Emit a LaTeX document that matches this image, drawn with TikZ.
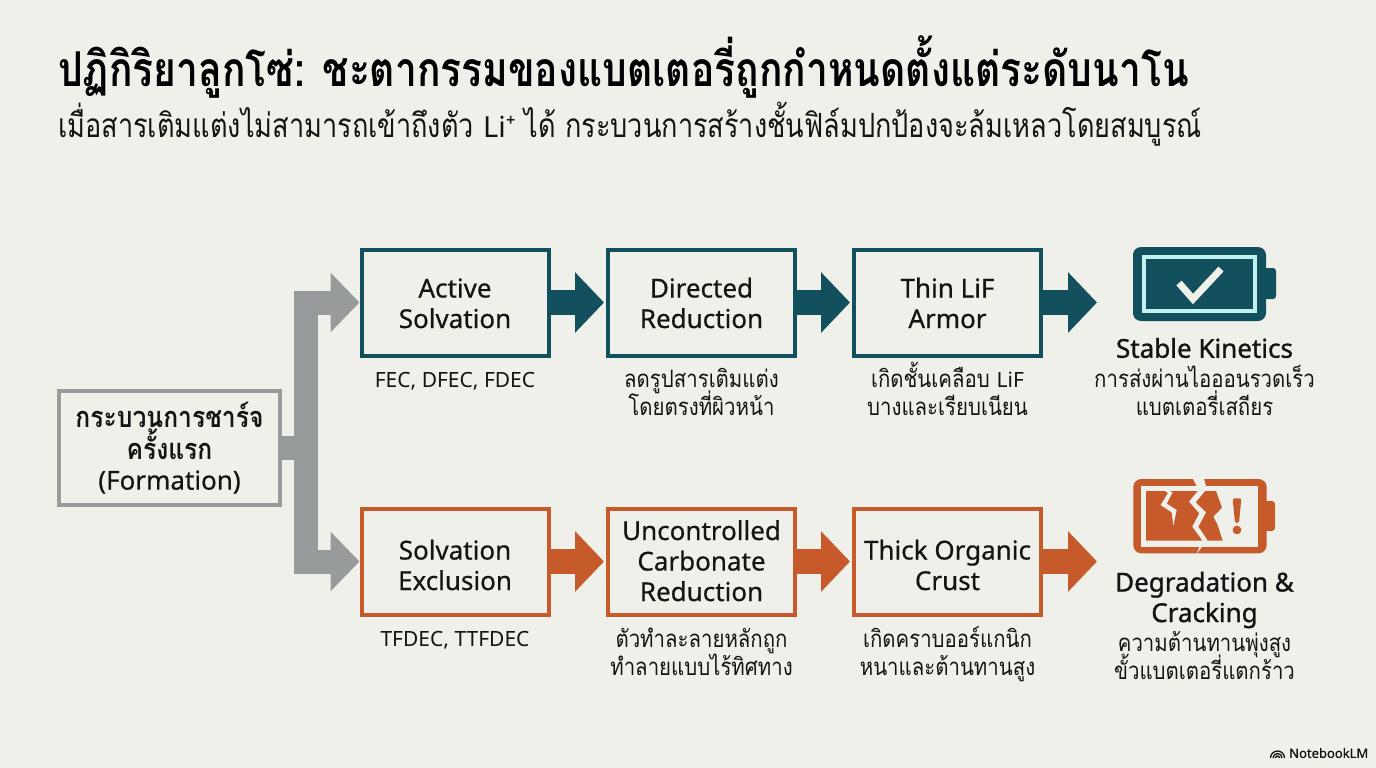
\documentclass[tikz,border=0pt]{standalone}
\usepackage{fontspec}
\setmainfont{Noto Sans}
\newfontfamily\medfont[FakeBold=0.5]{Noto Sans}
\newfontfamily\strongfont[FakeBold=1.1]{Noto Sans}
\newfontfamily\thaifont[Script=Thai,FakeStretch=0.85]{Loma}
\newfontfamily\thaihead[Script=Thai,FakeStretch=0.812]{Loma}
\newcommand\tightlines{\lineskiplimit=-100pt\relax}
\usetikzlibrary{arrows.meta,positioning,calc}
\definecolor{paper}{HTML}{F0F0EB}
\definecolor{tealc}{HTML}{12505E}
\definecolor{orangec}{HTML}{C65A2A}
\definecolor{grayc}{HTML}{989B9B}
\definecolor{inkc}{HTML}{141414}
\tikzset{
	stepbox/.style={draw=#1,line width=4pt,minimum width=187pt,minimum height=106pt,align=center,font=\fontsize{26}{30.5}\selectfont\medfont,text=inkc,inner sep=0pt},
	drop/.style={text height=#1,text depth=0pt},
	note/.style={align=center,font=\fontsize{21}{28}\selectfont,text=inkc,inner sep=0pt},
	thainote/.style={align=center,anchor=base,font=\fontsize{24}{27.5}\selectfont\thaifont\tightlines,text=inkc,inner sep=0pt},
	result/.style={align=center,font=\fontsize{26}{30.5}\selectfont\strongfont,text=inkc,inner sep=0pt},
	flow/.style={draw=#1,line width=25pt,shorten >=2pt,-{Triangle[length=29pt,width=59pt]}},
	trunk/.style={draw=grayc,line width=24pt,miter limit=10},
}
\begin{document}
\begin{tikzpicture}[x=1pt,y=-1pt]
	\fill[paper] (0,0) rectangle (1376,768);
	\useasboundingbox (0,0) rectangle (1376,768);
	% heading
	\node[anchor=west,inner sep=0pt,text=black,font=\fontsize{48}{54}\selectfont\bfseries\thaihead] (title) at (58,67) {ปฏิกิริยาลูกโซ่: ชะตากรรมของแบตเตอรี่ถูกกำหนดตั้งแต่ระดับนาโน};
	\node[anchor=west,inner sep=0pt,text=inkc,font=\fontsize{33.4}{40}\selectfont] (subtitle) at (58,124) {\thaihead เมื่อสารเติมแต่งไม่สามารถเข้าถึงตัว {\rmfamily\fontsize{29}{40}\selectfont Li⁺} ได้ กระบวนการสร้างชั้นฟิล์มปกป้องจะล้มเหลวโดยสมบูรณ์};
	% boxes
	\node[draw=grayc,line width=4pt,minimum width=221pt,minimum height=114pt,align=center,inner sep=0pt,font=\fontsize{26}{30}\selectfont\medfont,text=inkc] (start) at (169.5,448) {{\fontsize{29}{30}\selectfont\bfseries\thaifont กระบวนการชาร์จ}\\{\fontsize{29}{30}\selectfont\bfseries\thaifont ครั้งแรก}\\(Formation)};
	\node[stepbox=tealc,drop=51pt] (active) at (455,302.5) {Active\\Solvation};
	\node[stepbox=tealc,drop=51pt] (directed) at (701.5,302.5) {Directed\\Reduction};
	\node[stepbox=tealc,drop=51pt] (thin) at (947.5,302.5) {Thin LiF\\Armor};
	\node[stepbox=orangec,drop=57pt] (exclusion) at (455,561.5) {Solvation\\Exclusion};
	\node[stepbox=orangec,drop=79pt] (uncontrolled) at (701.5,561.5) {Uncontrolled\\Carbonate\\Reduction};
	\node[stepbox=orangec,drop=57pt] (crust) at (947.5,561.5) {Thick Organic\\Crust};
	% texts under the boxes
	\node[note] (activenote) at (455,381) {FEC, DFEC, FDEC};
	\node[thainote] (directednote) at (701.5,415) {ลดรูปสารเติมแต่ง\\โดยตรงที่ผิวหน้า};
	\node[thainote] (thinnote) at (947.5,415) {เกิดชั้นเคลือบ {\rmfamily\fontsize{21}{27.5}\selectfont LiF}\\บางและเรียบเนียน};
	\node[note] (exclusionnote) at (455,640) {TFDEC, TTFDEC};
	\node[thainote] (uncontrollednote) at (701.5,675) {ตัวทำละลายหลักถูก\\ทำลายแบบไร้ทิศทาง};
	\node[thainote] (crustnote) at (947.5,675) {เกิดคราบออร์แกนิก\\หนาและต้านทานสูง};
	% results
	\coordinate (stable) at (1099,302.5);
	\coordinate (degraded) at (1099,561.5);
	\node[result] (stabletext) at (1204.5,348) {Stable Kinetics};
	\node[thainote] (stablenote) at (1204.5,415) {การส่งผ่านไอออนรวดเร็ว\\แบตเตอรี่เสถียร};
	\node[result] (degradedtext) at (1204.5,600) {Degradation \&\\Cracking};
	\node[thainote] (degradednote) at (1204.5,679) {ความต้านทานพุ่งสูง\\ขั้วแบตเตอรี่แตกร้าว};
	% connectors
	\draw[flow=tealc] (active) -- (directed.west);
	\draw[flow=tealc] (directed) -- (thin.west);
	\draw[flow=tealc] (thin) -- (stable);
	\draw[flow=orangec] (exclusion) -- (uncontrolled.west);
	\draw[flow=orangec] (uncontrolled) -- (crust.west);
	\draw[flow=orangec] (crust) -- (degraded);
	\coordinate (fork) at (306,448);
	\draw[trunk] (start.east) -- (fork);
	\draw[trunk,-{Triangle[length=29pt,width=58pt]}] (fork) |- (active.west);
	\draw[trunk,-{Triangle[length=29pt,width=58pt]}] (fork) |- (exclusion.west);
	% teal battery
	\fill[tealc,rounded corners=8pt] (1133,247) rectangle (1266,321);
	\fill[tealc,rounded corners=3pt] (1260,268) rectangle (1276,299);
	\draw[paper!80!cyan,line width=4pt] (1144,257) rectangle (1255,311);
	\draw[paper,line width=7pt,line join=miter] (1179,283) -- (1193,299) -- (1221,269);
	% orange battery, in the units of a 3x crop
	\begin{scope}[shift={(1130,475)},x=0.3333pt,y=-0.3333pt]
		\fill[orangec,rounded corners=8pt] (10,12) rectangle (410,235);
		\fill[orangec,rounded corners=3pt] (395,78) rectangle (435,168);
		\fill[paper] (32,33) rectangle (384,215);
		\fill[orangec] (48,48) -- (258,48) -- (276,98) -- (250,125) -- (262,148) -- (278,197) -- (48,197) -- cycle;
		\fill[paper] (188,10) -- (206,45) -- (177,80) -- (208,115) -- (187,155) -- (216,195) -- (200,236) -- (232,195) -- (205,155) -- (228,112) -- (197,82) -- (230,42) -- (222,10) -- cycle;
		\fill[paper] (86,35) -- (114,54) -- (92,90) -- (125,112) -- (130,152) -- (140,105) -- (110,86) -- (128,52) -- cycle;
		\fill[orangec,rounded corners=2pt] (308,70) -- (334,70) -- (327,145) -- (315,145) -- cycle;
		\fill[orangec] (321,165) circle (13);
	\end{scope}
	% mark in the corner
	\node[anchor=west,inner sep=0pt,text=inkc,font=\fontsize{13}{16}\selectfont\medfont] (mark) at (1289,753) {NotebookLM};
	\foreach \r in {2,4.5,7}{
		\draw[inkc,line width=1.3pt] (1277.5-\r,758) arc (180:360:\r);
	}
\end{tikzpicture}
\end{document}
